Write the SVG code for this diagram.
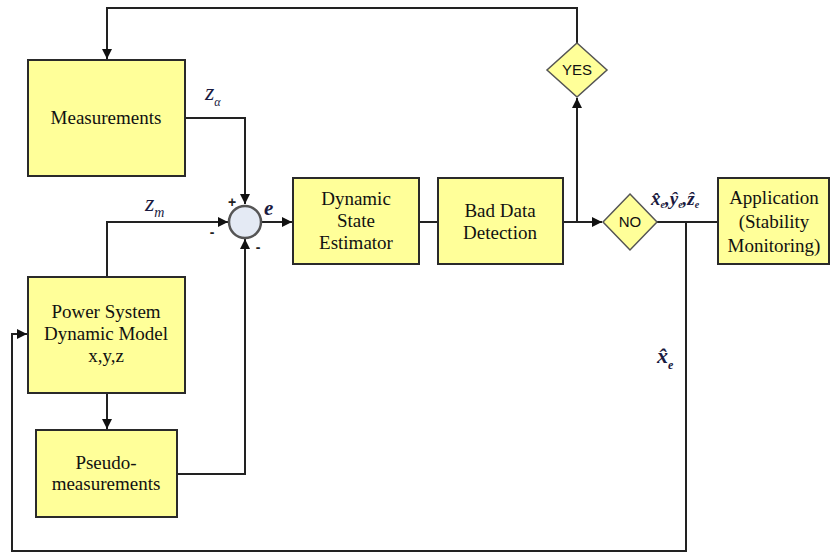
<svg xmlns="http://www.w3.org/2000/svg" width="831" height="556" viewBox="0 0 831 556">
  <style>
    .box { fill: #FFFF99; stroke: #2a2a2a; stroke-width: 2; }
    .dia { fill: #FFFF99; stroke: #555; stroke-width: 1.5; }
    .lbl { font-family: 'Liberation Serif', 'DejaVu Serif', serif; font-size: 19px; fill: #111; text-anchor: middle; }
    .dl { font-family: 'Liberation Sans', Arial, sans-serif; font-size: 15px; fill: #111; text-anchor: middle; }
    .math { font-family: 'Liberation Serif', 'DejaVu Serif', serif; font-style: italic; fill: #1a1a40; }
    .sign { font-family: 'Liberation Sans', Arial, sans-serif; font-size: 14px; font-weight: bold; fill: #222; text-anchor: middle; }
    .wire { fill: none; stroke: #222; stroke-width: 2; }
  </style>
  <defs>
    <marker id="arr" viewBox="0 0 10 10" refX="10" refY="5" markerWidth="5" markerHeight="5" orient="auto" markerUnits="strokeWidth">
      <path d="M0,0 L10,5 L0,10 z" fill="#111"/>
    </marker>
  </defs>
  <rect width="831" height="556" fill="#ffffff"/>

  <!-- connectors -->
  <g id="connectors">
    <path class="wire" d="M577,43 V8 H107 V59" marker-end="url(#arr)"/>
    <path class="wire" d="M185,118 H245 V204" marker-end="url(#arr)"/>
    <path class="wire" d="M107,277 V222 H228" marker-end="url(#arr)"/>
    <path class="wire" d="M177,474 H245 V239" marker-end="url(#arr)"/>
    <path class="wire" d="M261,222 H292" marker-end="url(#arr)"/>
    <path class="wire" d="M419,222 H438"/>
    <path class="wire" d="M563,222 H602" marker-end="url(#arr)"/>
    <path class="wire" d="M577,222 V98" marker-end="url(#arr)"/>
    <path class="wire" d="M657,222 H718"/>
    <path class="wire" d="M686,222 V551 H12 V334 H27" marker-end="url(#arr)"/>
    <path class="wire" d="M107,393 V429" marker-end="url(#arr)"/>
  </g>

  <g id="measurements">
    <rect class="box" x="28" y="60" width="157" height="116"/>
    <text class="lbl" x="106" y="124" font-family="Liberation Serif, serif">Measurements</text>
  </g>

  <g id="power-system">
    <rect class="box" x="28" y="277" width="157" height="116"/>
    <text class="lbl" x="106" y="318" font-family="Liberation Serif, serif">Power System</text>
    <text class="lbl" x="106" y="340" font-family="Liberation Serif, serif">Dynamic Model</text>
    <text class="lbl" x="106" y="362" font-family="Liberation Serif, serif">x,y,z</text>
  </g>

  <g id="pseudo-measurements">
    <rect class="box" x="36" y="430" width="141" height="87"/>
    <text class="lbl" x="106" y="469" font-family="Liberation Serif, serif">Pseudo-</text>
    <text class="lbl" x="106" y="490" font-family="Liberation Serif, serif">measurements</text>
  </g>

  <g id="summing-junction">
    <circle cx="245" cy="222" r="16" fill="#E4EAF4" stroke="#555" stroke-width="2.5"/>
    <text class="sign" x="232" y="207">+</text>
    <text class="sign" x="212" y="237">-</text>
    <text class="sign" x="258" y="252">-</text>
  </g>

  <g id="dynamic-state-estimator">
    <rect class="box" x="293" y="178" width="126" height="86"/>
    <text class="lbl" x="356" y="205" font-family="Liberation Serif, serif">Dynamic</text>
    <text class="lbl" x="356" y="227" font-family="Liberation Serif, serif">State</text>
    <text class="lbl" x="356" y="249" font-family="Liberation Serif, serif">Estimator</text>
  </g>

  <g id="bad-data-detection">
    <rect class="box" x="438" y="178" width="125" height="86"/>
    <text class="lbl" x="500" y="217" font-family="Liberation Serif, serif">Bad Data</text>
    <text class="lbl" x="500" y="239" font-family="Liberation Serif, serif">Detection</text>
  </g>

  <g id="yes">
    <polygon class="dia" points="577,43 607,70 577,97 547,70"/>
    <text class="dl" x="577" y="75">YES</text>
  </g>

  <g id="no">
    <polygon class="dia" points="630,194 657,222 630,250 603,222"/>
    <text class="dl" x="630" y="227">NO</text>
  </g>

  <g id="application">
    <rect class="box" x="718" y="178" width="111" height="86"/>
    <text class="lbl" x="774" y="204" font-family="Liberation Serif, serif">Application</text>
    <text class="lbl" x="774" y="228" font-family="Liberation Serif, serif">(Stability</text>
    <text class="lbl" x="774" y="252" font-family="Liberation Serif, serif">Monitoring)</text>
  </g>

  <!-- signal labels -->
  <g id="signal-labels">
    <text class="math" x="205" y="100" font-size="24">z<tspan font-size="12" dy="6">α</tspan></text>
    <text class="math" x="145" y="211" font-size="24">z<tspan font-size="14" dy="6">m</tspan></text>
    <text class="math" x="264" y="215" font-size="21" font-weight="bold">e</text>
    <text class="math" x="651" y="205" font-size="19" font-weight="bold">x̂<tspan font-size="10" dy="3">e</tspan><tspan dy="-3">,</tspan>ŷ<tspan font-size="10" dy="3">e</tspan><tspan dy="-3">,</tspan>ẑ<tspan font-size="10" dy="3">e</tspan></text>
    <text class="math" x="657" y="363" font-size="22" font-weight="bold">x̂<tspan font-size="12" dy="6">e</tspan></text>
  </g>
</svg>
